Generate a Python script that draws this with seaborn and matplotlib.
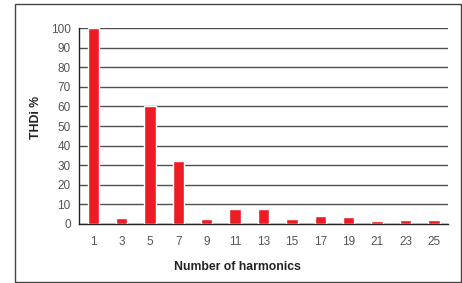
import matplotlib
matplotlib.use("Agg")
import matplotlib.pyplot as plt
import seaborn as sns
import pandas as pd
from matplotlib.patches import Rectangle

# harmonic orders and THDi share (%)
harmonics = ["1", "3", "5", "7", "9", "11", "13", "15", "17", "19", "21", "23", "25"]
thdi = [100, 3.2, 60, 32.2, 2.7, 7.8, 7.8, 2.7, 4.2, 3.7, 1.7, 2.2, 2.2]
y_ticks = [0, 10, 20, 30, 40, 50, 60, 70, 80, 90, 100]

df = pd.DataFrame({"harmonic": harmonics, "thdi": thdi})

sns.set_style("white")
plt.rcParams["font.family"] = ["Liberation Sans", "DejaVu Sans"]

fig = plt.figure(figsize=(4.62, 2.83), dpi=100)
ax = fig.add_axes([0.171, 0.2085, 0.799, 0.6925])

sns.barplot(data=df, x="harmonic", y="thdi", color="#ED1C24", saturation=1,
            width=0.4, ax=ax, zorder=3)

ax.set_xlim(-0.5, len(harmonics) - 0.5)
ax.set_ylim(0, 100)
ax.set_yticks(y_ticks)
ax.yaxis.grid(True, color="#505050", linewidth=1.0, zorder=0)
ax.set_axisbelow(True)

for s in ["top", "right"]:
    ax.spines[s].set_visible(False)
for s in ["left", "bottom"]:
    ax.spines[s].set_color("#222222")
    ax.spines[s].set_linewidth(1.0)

# tick marks between categories, labels centred under bars
ax.set_xticks([i - 0.5 for i in range(len(harmonics) + 1)], minor=True)
ax.tick_params(axis="x", which="minor", length=5, width=1, color="#222222", direction="out")
ax.tick_params(axis="x", which="major", length=0, pad=9, labelsize=8.5, labelcolor="#555555")
ax.tick_params(axis="y", length=4, width=1, color="#222222", direction="out",
               pad=2, labelsize=8.5, labelcolor="#555555")

ax.set_xlabel("Number of harmonics", fontsize=8.8, fontweight="bold", color="#222222")
ax.xaxis.set_label_coords(0.43, -0.19)
ax.set_ylabel("THDi %", fontsize=8.8, fontweight="bold", color="#222222")
ax.yaxis.set_label_coords(-0.1, 0.546)

# outer frame
fig.patches.append(Rectangle((15 / 462, 1.5 / 283), 445.5 / 462, 278 / 283,
                             transform=fig.transFigure, fill=False,
                             edgecolor="#444444", linewidth=1.0))

fig.savefig("out.png", dpi=100)
